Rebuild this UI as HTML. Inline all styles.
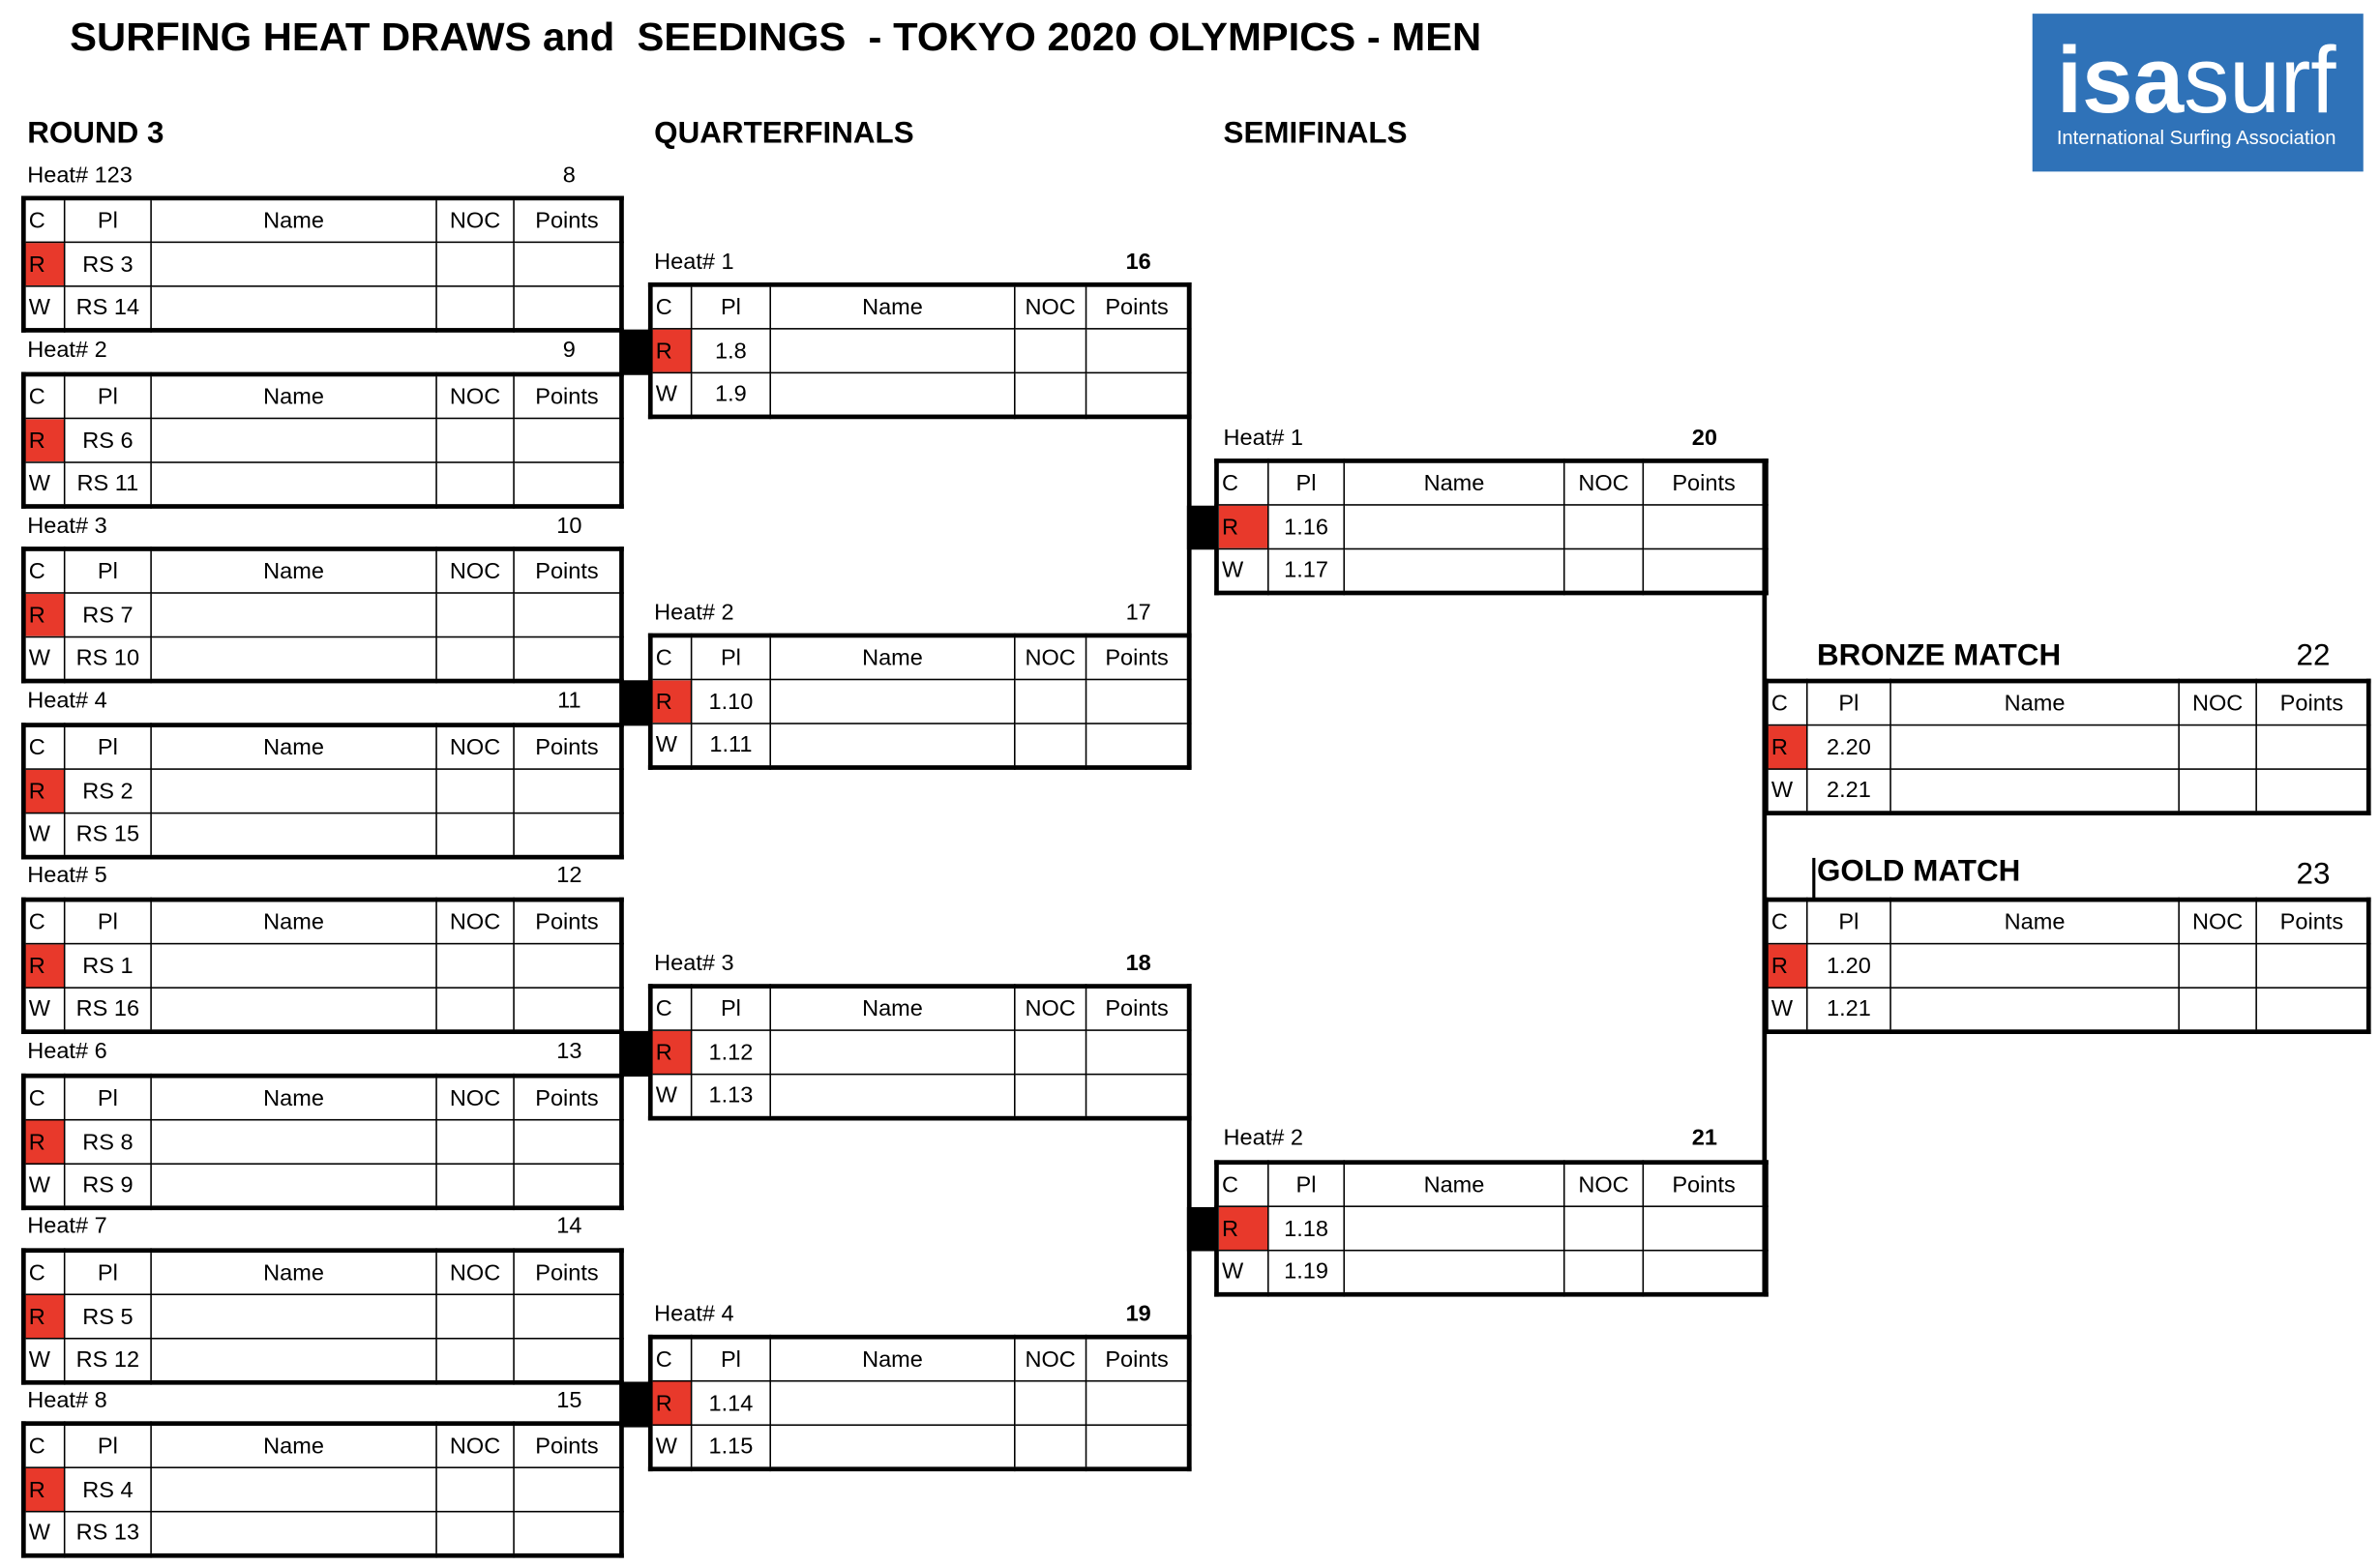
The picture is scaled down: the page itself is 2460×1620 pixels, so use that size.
<!DOCTYPE html>
<html><head><meta charset="utf-8"><style>
html,body{margin:0;padding:0;background:#fff;width:2460px;height:1620px;overflow:hidden}
#s{position:absolute;left:0;top:0;width:1568px;height:1032px;transform:scale(1.56888,1.56977);transform-origin:0 0;font-family:"Liberation Sans",sans-serif;color:#000}
table{position:absolute;border-collapse:collapse;table-layout:fixed;border:3px solid #000;font:15px "Liberation Sans",sans-serif}
tr{height:29px}
td{border:1.5px solid #000;padding:0;text-align:center;overflow:hidden;white-space:nowrap}
td:first-child{text-align:left;padding-left:2px}
td.r{background:#e8392b}
.A{width:387px}.A td:nth-child(1){width:23px}.A td:nth-child(2){width:56px}.A td:nth-child(3){width:187px}.A td:nth-child(4){width:50px}.A td:nth-child(5){width:69px}
.Q{width:348px}.Q td:nth-child(1){width:23px}.Q td:nth-child(2){width:51px}.Q td:nth-child(3){width:160px}.Q td:nth-child(4){width:46px}.Q td:nth-child(5){width:66px}
.S{width:355px}.S td:nth-child(1){width:30px}.S td:nth-child(2){width:49px}.S td:nth-child(3){width:144px}.S td:nth-child(4){width:51px}.S td:nth-child(5){width:79px}
.F{width:390px}.F td:nth-child(1){width:23px}.F td:nth-child(2){width:54px}.F td:nth-child(3){width:189px}.F td:nth-child(4){width:50px}.F td:nth-child(5){width:72px}
.lb{position:absolute;font-size:15px;line-height:20px;white-space:nowrap}
.n{position:absolute;width:60px;text-align:center;font-size:15px;line-height:20px}
.b{font-weight:bold}
.h{position:absolute;font-weight:bold;font-size:20px;line-height:24px;white-space:nowrap}
.blk{position:absolute;background:#000}
</style></head><body><div id="s">
<svg style="position:absolute;left:0;top:0" width="1568" height="120">
<text x="46" y="33" font-family="Liberation Sans" font-weight="bold" font-size="26" textLength="930" lengthAdjust="spacingAndGlyphs" xml:space="preserve">SURFING HEAT DRAWS and  SEEDINGS  - TOKYO 2020 OLYMPICS - MEN</text>
<rect x="1339" y="9" width="218" height="104" fill="#2f72b8"/>
<text x="1355" y="74" font-family="Liberation Sans" font-size="62" fill="#fff" textLength="184" lengthAdjust="spacingAndGlyphs"><tspan font-weight="bold">isa</tspan>surf</text>
<text x="1355" y="95" font-family="Liberation Sans" font-size="13" fill="#fff" textLength="184" lengthAdjust="spacingAndGlyphs">International Surfing Association</text>
</svg>
<div class="h" style="left:18px;top:76px">ROUND 3</div>
<div class="h" style="left:431px;top:76px">QUARTERFINALS</div>
<div class="h" style="left:806px;top:76px">SEMIFINALS</div>

<div class="blk" style="left:408px;top:217px;width:20px;height:30px"></div>
<div class="blk" style="left:408px;top:448px;width:20px;height:30px"></div>
<div class="blk" style="left:408px;top:679px;width:20px;height:30px"></div>
<div class="blk" style="left:408px;top:910px;width:20px;height:30px"></div>
<div class="blk" style="left:782px;top:186px;width:2.5px;height:320px"></div>
<div class="blk" style="left:782px;top:648px;width:2.5px;height:320px"></div>
<div class="blk" style="left:782px;top:333px;width:19px;height:29px"></div>
<div class="blk" style="left:782px;top:795px;width:19px;height:29px"></div>
<div class="blk" style="left:1161px;top:302px;width:2.5px;height:550px"></div>
<div class="blk" style="left:1194px;top:565px;width:1.5px;height:27px"></div>

<div class="lb" style="left:18px;top:106px">Heat# 123</div><div class="n" style="left:345px;top:106px">8</div>
<table class="A" style="left:14px;top:129px"><tr><td>C</td><td>Pl</td><td>Name</td><td>NOC</td><td>Points</td></tr><tr><td class="r">R</td><td>RS 3</td><td></td><td></td><td></td></tr><tr><td>W</td><td>RS 14</td><td></td><td></td><td></td></tr></table>
<div class="lb" style="left:18px;top:221px">Heat# 2</div><div class="n" style="left:345px;top:221px">9</div>
<table class="A" style="left:14px;top:245px"><tr><td>C</td><td>Pl</td><td>Name</td><td>NOC</td><td>Points</td></tr><tr><td class="r">R</td><td>RS 6</td><td></td><td></td><td></td></tr><tr><td>W</td><td>RS 11</td><td></td><td></td><td></td></tr></table>
<div class="lb" style="left:18px;top:337px">Heat# 3</div><div class="n" style="left:345px;top:337px">10</div>
<table class="A" style="left:14px;top:360px"><tr><td>C</td><td>Pl</td><td>Name</td><td>NOC</td><td>Points</td></tr><tr><td class="r">R</td><td>RS 7</td><td></td><td></td><td></td></tr><tr><td>W</td><td>RS 10</td><td></td><td></td><td></td></tr></table>
<div class="lb" style="left:18px;top:452px">Heat# 4</div><div class="n" style="left:345px;top:452px">11</div>
<table class="A" style="left:14px;top:476px"><tr><td>C</td><td>Pl</td><td>Name</td><td>NOC</td><td>Points</td></tr><tr><td class="r">R</td><td>RS 2</td><td></td><td></td><td></td></tr><tr><td>W</td><td>RS 15</td><td></td><td></td><td></td></tr></table>
<div class="lb" style="left:18px;top:567px">Heat# 5</div><div class="n" style="left:345px;top:567px">12</div>
<table class="A" style="left:14px;top:591px"><tr><td>C</td><td>Pl</td><td>Name</td><td>NOC</td><td>Points</td></tr><tr><td class="r">R</td><td>RS 1</td><td></td><td></td><td></td></tr><tr><td>W</td><td>RS 16</td><td></td><td></td><td></td></tr></table>
<div class="lb" style="left:18px;top:683px">Heat# 6</div><div class="n" style="left:345px;top:683px">13</div>
<table class="A" style="left:14px;top:707px"><tr><td>C</td><td>Pl</td><td>Name</td><td>NOC</td><td>Points</td></tr><tr><td class="r">R</td><td>RS 8</td><td></td><td></td><td></td></tr><tr><td>W</td><td>RS 9</td><td></td><td></td><td></td></tr></table>
<div class="lb" style="left:18px;top:798px">Heat# 7</div><div class="n" style="left:345px;top:798px">14</div>
<table class="A" style="left:14px;top:822px"><tr><td>C</td><td>Pl</td><td>Name</td><td>NOC</td><td>Points</td></tr><tr><td class="r">R</td><td>RS 5</td><td></td><td></td><td></td></tr><tr><td>W</td><td>RS 12</td><td></td><td></td><td></td></tr></table>
<div class="lb" style="left:18px;top:913px">Heat# 8</div><div class="n" style="left:345px;top:913px">15</div>
<table class="A" style="left:14px;top:936px"><tr><td>C</td><td>Pl</td><td>Name</td><td>NOC</td><td>Points</td></tr><tr><td class="r">R</td><td>RS 4</td><td></td><td></td><td></td></tr><tr><td>W</td><td>RS 13</td><td></td><td></td><td></td></tr></table>

<div class="lb" style="left:431px;top:163px">Heat# 1</div><div class="n b" style="left:720px;top:163px">16</div>
<table class="Q" style="left:427px;top:186px"><tr><td>C</td><td>Pl</td><td>Name</td><td>NOC</td><td>Points</td></tr><tr><td class="r">R</td><td>1.8</td><td></td><td></td><td></td></tr><tr><td>W</td><td>1.9</td><td></td><td></td><td></td></tr></table>
<div class="lb" style="left:431px;top:394px">Heat# 2</div><div class="n" style="left:720px;top:394px">17</div>
<table class="Q" style="left:427px;top:417px"><tr><td>C</td><td>Pl</td><td>Name</td><td>NOC</td><td>Points</td></tr><tr><td class="r">R</td><td>1.10</td><td></td><td></td><td></td></tr><tr><td>W</td><td>1.11</td><td></td><td></td><td></td></tr></table>
<div class="lb" style="left:431px;top:625px">Heat# 3</div><div class="n b" style="left:720px;top:625px">18</div>
<table class="Q" style="left:427px;top:648px"><tr><td>C</td><td>Pl</td><td>Name</td><td>NOC</td><td>Points</td></tr><tr><td class="r">R</td><td>1.12</td><td></td><td></td><td></td></tr><tr><td>W</td><td>1.13</td><td></td><td></td><td></td></tr></table>
<div class="lb" style="left:431px;top:856px">Heat# 4</div><div class="n b" style="left:720px;top:856px">19</div>
<table class="Q" style="left:427px;top:879px"><tr><td>C</td><td>Pl</td><td>Name</td><td>NOC</td><td>Points</td></tr><tr><td class="r">R</td><td>1.14</td><td></td><td></td><td></td></tr><tr><td>W</td><td>1.15</td><td></td><td></td><td></td></tr></table>

<div class="lb" style="left:806px;top:279px">Heat# 1</div><div class="n b" style="left:1093px;top:279px">20</div>
<table class="S" style="left:800px;top:302px"><tr><td>C</td><td>Pl</td><td>Name</td><td>NOC</td><td>Points</td></tr><tr><td class="r">R</td><td>1.16</td><td></td><td></td><td></td></tr><tr><td>W</td><td>1.17</td><td></td><td></td><td></td></tr></table>
<div class="lb" style="left:806px;top:740px">Heat# 2</div><div class="n b" style="left:1093px;top:740px">21</div>
<table class="S" style="left:800px;top:764px"><tr><td>C</td><td>Pl</td><td>Name</td><td>NOC</td><td>Points</td></tr><tr><td class="r">R</td><td>1.18</td><td></td><td></td><td></td></tr><tr><td>W</td><td>1.19</td><td></td><td></td><td></td></tr></table>

<div class="h" style="left:1197px;top:420px">BRONZE MATCH</div><div class="n" style="left:1494px;top:422px;font-size:20px">22</div>
<table class="F" style="left:1162px;top:447px"><tr><td>C</td><td>Pl</td><td>Name</td><td>NOC</td><td>Points</td></tr><tr><td class="r">R</td><td>2.20</td><td></td><td></td><td></td></tr><tr><td>W</td><td>2.21</td><td></td><td></td><td></td></tr></table>
<div class="h" style="left:1197px;top:562px">GOLD MATCH</div><div class="n" style="left:1494px;top:566px;font-size:20px">23</div>
<table class="F" style="left:1162px;top:591px"><tr><td>C</td><td>Pl</td><td>Name</td><td>NOC</td><td>Points</td></tr><tr><td class="r">R</td><td>1.20</td><td></td><td></td><td></td></tr><tr><td>W</td><td>1.21</td><td></td><td></td><td></td></tr></table>
</div></body></html>
